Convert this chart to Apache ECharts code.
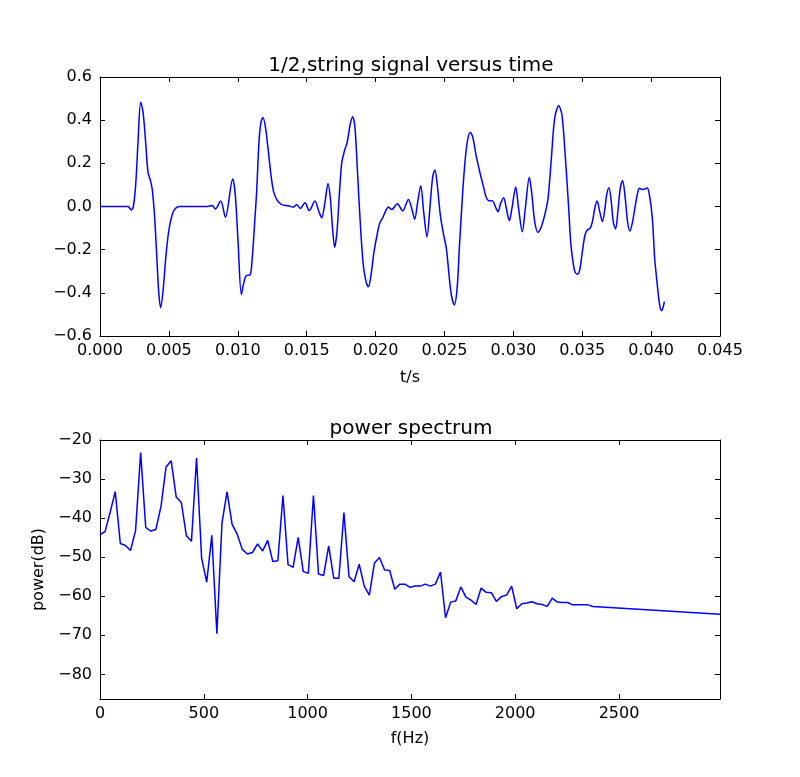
<!DOCTYPE html>
<html>
<head>
<meta charset="utf-8">
<script src="https://cdn.jsdelivr.net/npm/echarts@6/dist/echarts.min.js"></script>
<style>
html,body{margin:0;padding:0;background:#fff;}
#chart{width:800px;height:777px;}
</style>
</head>
<body>
<div id="chart"></div>
<script>
// ---- top panel: string signal versus time ----
const signalTime = [0,0.00203,0.00227,0.00242,0.00259,0.00276,0.00295,0.00312,0.00331,0.00348,0.00368,0.00380,0.00397,0.00414,0.00426,0.00440,0.00457,0.00477,0.00498,0.00523,0.00547,0.00578,0.00772,0.00815,0.00837,0.00876,0.00910,0.00963,0.00982,0.01002,0.01026,0.01043,0.01062,0.01089,0.01103,0.01122,0.01137,0.01154,0.01169,0.01183,0.01202,0.01222,0.01241,0.01260,0.01285,0.01319,0.01367,0.01403,0.01428,0.01454,0.01488,0.01519,0.01560,0.01589,0.01609,0.01633,0.01655,0.01672,0.01686,0.01703,0.01720,0.01737,0.01754,0.01773,0.01795,0.01815,0.01834,0.01851,0.01870,0.01890,0.01911,0.01931,0.01948,0.01967,0.01989,0.02011,0.02030,0.02052,0.02071,0.02093,0.02117,0.02158,0.02197,0.02238,0.02265,0.02284,0.02306,0.02328,0.02349,0.02373,0.02398,0.02415,0.02431,0.02448,0.02470,0.02494,0.02514,0.02531,0.02550,0.02572,0.02592,0.02608,0.02628,0.02647,0.02666,0.02686,0.02705,0.02729,0.02756,0.02780,0.02802,0.02821,0.02850,0.02869,0.02889,0.02908,0.02930,0.02949,0.02971,0.02990,0.03017,0.03038,0.03065,0.03087,0.03116,0.03135,0.03155,0.03179,0.03203,0.03228,0.03252,0.03276,0.03300,0.03329,0.03353,0.03378,0.03402,0.03416,0.03433,0.03447,0.03465,0.03482,0.03501,0.03520,0.03537,0.03557,0.03574,0.03591,0.03608,0.03627,0.03646,0.03665,0.03677,0.03694,0.03711,0.03725,0.03742,0.03761,0.03776,0.03793,0.03810,0.03829,0.03846,0.03863,0.03882,0.03899,0.03915,0.03935,0.03954,0.03971,0.03988,0.04009,0.04026,0.04045,0.04062,0.04076,0.04088,0.04096];
const signalValue = [0,0,-0.016,0,0.10,0.30,0.483,0.44,0.30,0.161,0.115,0.076,-0.055,-0.256,-0.395,-0.469,-0.395,-0.24,-0.117,-0.039,-0.009,0,0,0.005,-0.012,0.025,-0.05,0.127,0.053,-0.163,-0.407,-0.356,-0.32,-0.317,-0.256,-0.08,0.069,0.30,0.393,0.412,0.362,0.254,0.146,0.069,0.03,0.009,0.003,-0.003,0.008,-0.009,0.017,-0.019,0.025,-0.024,-0.052,0.021,0.107,0.038,-0.086,-0.189,-0.117,0.053,0.20,0.254,0.30,0.378,0.416,0.362,0.146,-0.086,-0.271,-0.348,-0.372,-0.317,-0.209,-0.132,-0.078,-0.052,-0.024,-0.002,-0.014,0.013,-0.021,0.032,-0.015,-0.059,0.022,0.096,-0.024,-0.141,0.022,0.138,0.169,0.10,-0.039,-0.132,-0.194,-0.302,-0.41,-0.456,-0.379,-0.194,0.022,0.192,0.30,0.344,0.323,0.239,0.161,0.10,0.045,0.027,0.026,0,-0.024,0.015,0.041,-0.008,-0.066,-0.008,0.09,-0.008,-0.117,-0.008,0.135,0.053,-0.07,-0.12,-0.094,-0.039,0.038,0.223,0.409,0.467,0.424,0.223,-0.01,-0.163,-0.256,-0.302,-0.314,-0.293,-0.209,-0.132,-0.109,-0.101,-0.07,-0.008,0.025,-0.024,-0.07,-0.008,0.053,0.087,0.022,-0.07,-0.104,-0.008,0.084,0.121,0.053,-0.07,-0.114,-0.078,-0.008,0.053,0.084,0.079,0.081,0.087,0.053,-0.055,-0.24,-0.364,-0.456,-0.483,-0.465,-0.441];

// ---- bottom panel: power spectrum ----
const spectrumFreq = [0,24.5,49.0,73.4,97.9,122.4,146.9,171.4,195.8,220.3,244.8,269.3,293.8,318.2,342.7,367.2,391.7,416.2,440.6,465.1,489.6,514.1,538.6,563.0,587.5,612.0,636.5,661.0,685.4,709.9,734.4,758.9,783.4,807.8,832.3,856.8,881.3,905.8,930.2,954.7,979.2,1003.7,1028.2,1052.6,1077.1,1101.6,1126.1,1150.6,1175.0,1199.5,1224.0,1248.5,1273.0,1297.4,1321.9,1346.4,1370.9,1395.4,1419.8,1444.3,1468.8,1493.3,1517.8,1542.2,1566.7,1591.2,1615.7,1640.2,1664.6,1689.1,1713.6,1738.1,1762.6,1787.0,1811.5,1836.0,1860.5,1885.0,1909.4,1933.9,1958.4,1982.9,2007.4,2031.8,2056.3,2080.8,2105.3,2129.8,2154.2,2178.7,2203.2,2227.7,2252.2,2276.6,2301.1,2325.6,2350.1,2374.6,2986.6];
const spectrumPower = [-44.3,-43.4,-38.5,-33.2,-46.5,-47.0,-48.3,-43.2,-23.2,-42.4,-43.3,-42.9,-37.0,-26.9,-25.3,-34.6,-36.0,-44.5,-45.9,-24.6,-50.3,-56.4,-44.4,-69.6,-41.3,-33.3,-41.6,-44.1,-48.0,-49.2,-48.8,-46.6,-48.4,-45.7,-51.1,-50.9,-34.2,-51.9,-52.6,-44.9,-53.7,-54.1,-34.2,-54.3,-54.7,-47.1,-55.4,-55.4,-38.6,-55.0,-56.3,-51.8,-57.4,-59.7,-51.5,-50.1,-53.3,-53.4,-58.2,-56.9,-56.9,-57.7,-57.4,-57.4,-56.9,-57.4,-56.9,-53.8,-65.5,-61.5,-61.2,-57.6,-60.2,-61.0,-62.1,-57.9,-59.0,-59.1,-61.3,-60.1,-59.7,-57.4,-63.2,-61.9,-61.7,-61.4,-61.9,-62.1,-62.6,-60.5,-61.5,-61.6,-61.6,-62.2,-62.2,-62.2,-62.2,-62.6,-64.6];

const spectrumXTicks = [0,500,1000,1500,2000,2500];
const spectrumYTicks = [-80,-70,-60,-50,-40,-30,-20];

const FONT = 'DejaVu Sans';
const minus = s => String(s).replace('-', '\u2212');

function frameAxis(base, extra) {
  return Object.assign({
    axisLine: {show: true, onZero: false, lineStyle: {color: '#000', width: 1}},
    axisTick: {show: true, inside: true, length: 5, lineStyle: {color: '#000', width: 1}},
    splitLine: {show: false},
    axisLabel: {show: false}
  }, base, extra || {});
}
const labelStyle = {color: '#000', fontFamily: FONT, fontSize: 16};

const chart = echarts.init(document.getElementById('chart'), null, {renderer: 'canvas'});
chart.setOption({
  animation: false,
  backgroundColor: '#fff',
  title: [
    {text: '1/2,string signal versus time', left: 406, top: 51, textAlign: 'center',
     textStyle: {fontFamily: FONT, fontSize: 20, fontWeight: 'normal', color: '#000'}},
    {text: 'power spectrum', left: 406, top: 414, textAlign: 'center',
     textStyle: {fontFamily: FONT, fontSize: 20, fontWeight: 'normal', color: '#000'}}
  ],
  grid: [
    {left: 100, top: 77, width: 620, height: 259, outerBoundsMode: 'none'},
    {left: 100, top: 440, width: 620, height: 259, outerBoundsMode: 'none'}
  ],
  xAxis: [
    frameAxis({type: 'value', gridIndex: 0, position: 'bottom', min: 0, max: 0.045, interval: 0.005,
      name: 't/s', nameLocation: 'middle', nameGap: 34, nameTextStyle: labelStyle,
      axisLabel: Object.assign({show: true, margin: 7, formatter: v => v.toFixed(3)}, labelStyle)}),
    frameAxis({type: 'value', gridIndex: 0, position: 'top', min: 0, max: 0.045, interval: 0.005}),
    frameAxis({type: 'value', gridIndex: 1, position: 'bottom', min: 0, max: 2986.6,
      name: 'f(Hz)', nameLocation: 'middle', nameGap: 32, nameTextStyle: labelStyle,
      axisTick: {show: true, inside: true, length: 5, customValues: spectrumXTicks, lineStyle: {color: '#000', width: 1}},
      axisLabel: Object.assign({show: true, margin: 7, customValues: spectrumXTicks, formatter: v => String(Math.round(v))}, labelStyle)}),
    frameAxis({type: 'value', gridIndex: 1, position: 'top', min: 0, max: 2986.6,
      axisTick: {show: true, inside: true, length: 5, customValues: spectrumXTicks, lineStyle: {color: '#000', width: 1}}})
  ],
  yAxis: [
    frameAxis({type: 'value', gridIndex: 0, position: 'left', min: -0.6, max: 0.6, interval: 0.2,
      axisLabel: Object.assign({show: true, margin: 8, formatter: v => minus(v.toFixed(1))}, labelStyle)}),
    frameAxis({type: 'value', gridIndex: 0, position: 'right', min: -0.6, max: 0.6, interval: 0.2}),
    frameAxis({type: 'value', gridIndex: 1, position: 'left', min: -86.3, max: -20,
      name: 'power(dB)', nameLocation: 'middle', nameGap: 44, nameRotate: 90, nameTextStyle: labelStyle,
      axisTick: {show: true, inside: true, length: 5, customValues: spectrumYTicks, lineStyle: {color: '#000', width: 1}},
      axisLabel: Object.assign({show: true, margin: 8, customValues: spectrumYTicks, formatter: v => minus(Math.round(v))}, labelStyle)}),
    frameAxis({type: 'value', gridIndex: 1, position: 'right', min: -86.3, max: -20,
      axisTick: {show: true, inside: true, length: 5, customValues: spectrumYTicks, lineStyle: {color: '#000', width: 1}}})
  ],
  series: [
    {type: 'line', xAxisIndex: 0, yAxisIndex: 0, showSymbol: false, smooth: 0.3,
     lineStyle: {color: '#0000ff', width: 1.5},
     data: signalTime.map((t, i) => [t, signalValue[i]])},
    {type: 'line', xAxisIndex: 2, yAxisIndex: 2, showSymbol: false, smooth: false,
     lineStyle: {color: '#0000ff', width: 1.5},
     data: spectrumFreq.map((f, i) => [f, spectrumPower[i]])}
  ]
});
</script>
</body>
</html>
